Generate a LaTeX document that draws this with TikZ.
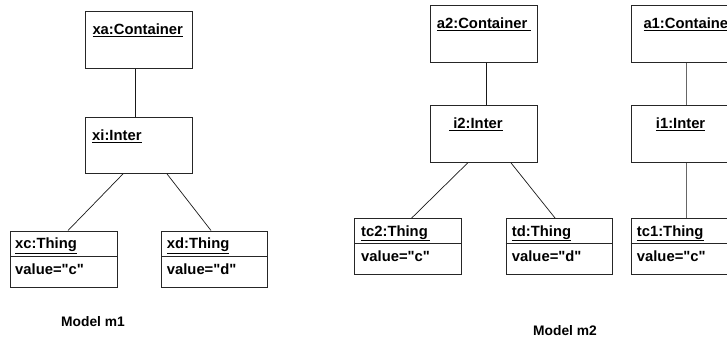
\documentclass[tikz,border=0pt]{standalone}
\usepackage{fontspec}
\setmainfont{Liberation Sans}
\usetikzlibrary{calc}
\newcommand\sq{\textquotedbl}
\begin{document}
\begin{tikzpicture}[x=1pt,y=-1pt,
  objbox/.style={draw=black!85, line width=0.9pt, minimum width=107pt, minimum height=57pt, inner sep=0pt, anchor=north west},
  thingbox/.style={objbox, minimum height=56pt},
  lbl/.style={anchor=base west, inner sep=0pt, font=\bfseries\fontsize{14.8}{16}\selectfont},
  modelcaption/.style={anchor=center, inner sep=0pt, font=\bfseries\fontsize{13.8}{16}\selectfont},
  conn/.style={line width=0.7pt, black!90},
  sepline/.style={line width=0.8pt, black!85}]
\useasboundingbox (0,0) rectangle (727,341);
\clip (0,0) rectangle (727,341);
% Model m1
\node[objbox] (xa) at (85,10.7) {};
\node[objbox, minimum height=56pt] (xi) at (85,117) {};
\node[thingbox, minimum width=106.5pt] (xc) at (10,230.5) {};
\node[thingbox, minimum width=106pt] (xd) at (161,230.5) {};
\draw[sepline] ($(xc.north west)+(0,25.5)$) -- ($(xc.north east)+(0,25.5)$);
\draw[sepline] ($(xd.north west)+(0,25.5)$) -- ($(xd.north east)+(0,25.5)$);
\node[lbl] (xat) at ($(xa.north west)+(7.3,23.6)$) {\underline{xa:Container}};
\node[lbl] (xit) at ($(xi.north west)+(7,23.6)$) {\underline{xi:Inter}};
\node[lbl] (xct) at ($(xc.north west)+(5,18)$) {\underline{xc:Thing}};
\node[lbl] (xcv) at ($(xc.north west)+(5,43.7)$) {value=\sq c\sq};
\node[lbl] (xdt) at ($(xd.north west)+(5.7,18)$) {\underline{xd:Thing}};
\node[lbl] (xdv) at ($(xd.north west)+(5.7,43.7)$) {value=\sq d\sq};
\draw[conn] ($(xa.south west)+(50,0)$) -- ($(xi.north west)+(50,0)$);
\draw[conn] ($(xi.south west)+(38,0)$) -- ($(xc.north west)+(58,0)$);
\draw[conn] ($(xi.south west)+(82,0)$) -- ($(xd.north west)+(50,0)$);
\node[modelcaption] (m1) at (93,322) {Model m1};
% Model m2
\node[objbox] (a2) at (430,4.7) {};
\node[objbox] (i2) at (430,105) {};
\node[thingbox] (tc2) at (354.3,218) {};
\node[thingbox, minimum width=106pt] (td) at (505.7,218) {};
\node[objbox] (a1) at (630.7,4.7) {};
\node[objbox] (i1) at (630.7,105) {};
\node[thingbox] (tc1) at (630.7,218) {};
\draw[sepline] ($(tc2.north west)+(0,25)$) -- ($(tc2.north east)+(0,25)$);
\draw[sepline] ($(td.north west)+(0,25)$) -- ($(td.north east)+(0,25)$);
\draw[sepline] ($(tc1.north west)+(0,25)$) -- ($(tc1.north east)+(0,25)$);
\node[lbl] (a2t) at ($(a2.north west)+(6.7,23.6)$) {\underline{a2:Container\ }};
\node[lbl] (i2t) at ($(i2.north west)+(19,23.6)$) {\underline{\ i2:Inter}};
\node[lbl] (a1t) at ($(a1.north west)+(12.6,23.6)$) {\underline{a1:Container}};
\node[lbl] (i1t) at ($(i1.north west)+(25,23.6)$) {\underline{i1:Inter}};
\node[lbl] (tc2t) at ($(tc2.north west)+(6.7,18)$) {\underline{tc2:Thing\,}};
\node[lbl] (tc2v) at ($(tc2.north west)+(6.7,43.5)$) {value=\sq c\sq};
\node[lbl] (tdt) at ($(td.north west)+(6,18)$) {\underline{td:Thing}};
\node[lbl] (tdv) at ($(td.north west)+(6,43.5)$) {value=\sq d\sq};
\node[lbl] (tc1t) at ($(tc1.north west)+(6,18)$) {\underline{tc1:Thing}};
\node[lbl] (tc1v) at ($(tc1.north west)+(6,43.5)$) {value=\sq c\sq};
\draw[conn] ($(a2.south west)+(56.7,0)$) -- ($(i2.north west)+(56.7,0)$);
\draw[conn] ($(i2.south west)+(37.7,0)$) -- ($(tc2.north west)+(57.4,0)$);
\draw[conn] ($(i2.south west)+(81,0)$) -- ($(td.north west)+(49.3,0)$);
\draw[conn, black!60] ($(a1.south west)+(56,0)$) -- ($(i1.north west)+(56,0)$);
\draw[conn, black!60] ($(i1.south west)+(56,0)$) -- ($(tc1.north west)+(56,0)$);
\node[modelcaption] (m2) at (565,331) {Model m2};
\end{tikzpicture}
\end{document}
